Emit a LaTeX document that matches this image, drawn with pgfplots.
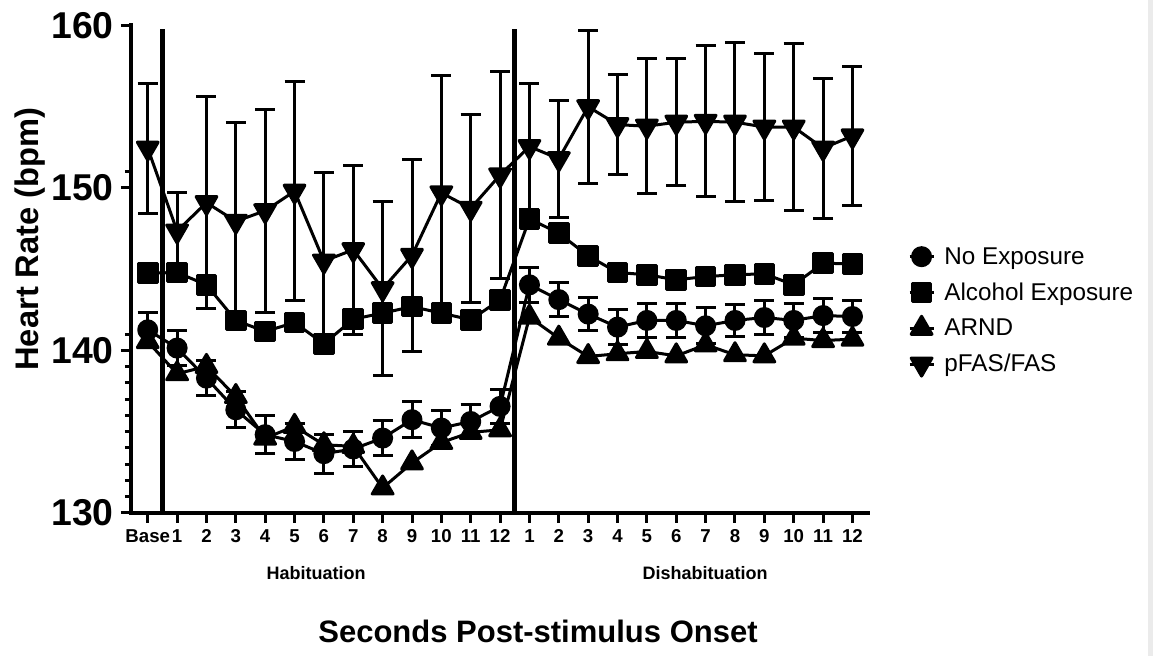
\documentclass[border=0pt]{standalone}
\usepackage{fontspec}
\setmainfont{Liberation Sans}
\usepackage{pgfplots}
\pgfplotsset{compat=1.18}
\usepackage{pgfplotstable}

% 1 px of the reference = 0.75pt; axis box 737 x 487.5 px
\pgfplotstableread{
x   noexp   enoexp  alc     arnd    fas     efas
0   141.27  1.05    144.76  140.55  152.45  4.00
1   140.15  1.06    144.80  138.57  147.35  2.40
2   138.30  1.10    144.04  139.02  149.10  6.50
3   136.35  1.10    141.85  137.17  147.95  6.10
4   134.82  1.17    141.17  134.61  148.60  6.25
5   134.40  1.10    141.72  135.33  149.80  6.75
6   133.65  1.20    140.41  134.20  145.50  5.45
7   133.94  1.10    141.93  134.10  146.20  5.20
8   134.61  1.07    142.30  131.54  143.80  5.35
9   135.74  1.10    142.70  133.08  145.85  5.90
10  135.23  1.08    142.30  134.34  149.70  7.25
11  135.63  1.07    141.89  134.96  148.75  5.80
12  136.56  1.07    143.12  135.12  150.80  6.35
13  144.04  1.06    148.10  142.05  152.55  3.85
14  143.13  1.05    147.22  140.76  151.80  3.60
15  142.24  1.03    145.82  139.63  155.00  4.70
16  141.44  1.06    144.80  139.80  153.90  3.10
17  141.85  1.07    144.66  139.94  153.80  4.15
18  141.85  1.07    144.35  139.67  154.05  3.90
19  141.52  1.12    144.55  140.35  154.10  4.65
20  141.85  1.00    144.66  139.74  154.05  4.90
21  142.03  1.04    144.72  139.67  153.75  4.55
22  141.85  1.07    144.04  140.76  153.75  5.15
23  142.15  1.03    145.37  140.61  152.45  4.30
24  142.09  1.00    145.33  140.70  153.20  4.25
}\hrdata

\begin{document}
\begin{tikzpicture}
\useasboundingbox (-98.25pt,-107.25pt) rectangle (766.5pt,384.75pt);
\fill[black!8] (762.75pt,-107.25pt) rectangle (766.5pt,384.75pt);
\begin{axis}[
  at={(0pt,0pt)}, anchor=south west,
  scale only axis, width=552.75pt, height=365.625pt,
  xmin=-0.57, xmax=24.53, ymin=130, ymax=160,
  axis x line*=bottom, axis y line*=left,
  axis line style={line width=3pt, line cap=rect},
  tick align=outside, tick style={black, line width=2.25pt},
  major tick length=7.5pt, minor tick length=4.5pt,
  xtick={0,...,24},
  xticklabels={Base,1,2,3,4,5,6,7,8,9,10,11,12,1,2,3,4,5,6,7,8,9,10,11,12},
  xticklabel style={font=\fontsize{14pt}{16pt}\selectfont\bfseries, anchor=base, yshift=-14.5pt},
  ytick={130,140,150,160}, yticklabels={130,140,150,160},
  minor ytick={131,...,139,141,...,149,151,...,159},
  yticklabel style={font=\fontsize{28pt}{32pt}\selectfont\bfseries, xshift=-2pt},
  clip=false,
  legend cell align=left,
  legend style={draw=none, fill=none, at={(axis description cs:1.054,0.551)}, anchor=north west,
    font=\fontsize{18.2pt}{21pt}\selectfont, row sep=8.5pt, inner sep=0pt,
    /tikz/every even column/.append style={column sep=0pt},
    nodes={inner xsep=7pt}},
  legend image code/.code={\draw[mark repeat=2,mark phase=2,#1] plot coordinates {(0pt,0pt) (9pt,0pt) (18pt,0pt)};},
  every axis plot/.append style={black, line width=2.25pt, line join=round},
  error bars/error bar style={line width=2.25pt},
  error bars/error mark options={line width=2.25pt, mark size=7.5pt, rotate=90},
]
\addplot[mark=*, mark size=6.75pt, error bars/.cd, y dir=both, y explicit]
  table[x=x, y=noexp, y error=enoexp] {\hrdata};
\addplot[mark=square*, mark size=7pt] table[x=x, y=alc] {\hrdata};
\addplot[mark=triangle*, mark size=9pt] table[x=x, y=arnd] {\hrdata};
\addplot[mark=triangle*, mark size=9pt, mark options={rotate=180}, error bars/.cd, y dir=both, y explicit]
  table[x=x, y=fas, y error=efas] {\hrdata};
\legend{No Exposure, Alcohol Exposure, ARND, pFAS/FAS}
\draw[line width=3.5pt] (axis cs:0.5,130) -- (axis cs:0.5,159.8);
\draw[line width=3.5pt] (axis cs:12.5,130) -- (axis cs:12.5,159.8);
\end{axis}
\node[rotate=90, font=\fontsize{24.5pt}{28pt}\selectfont\bfseries] at (-75.5pt,205.5pt) {Heart Rate (bpm)};
\node[anchor=base, font=\fontsize{13.5pt}{16pt}\selectfont\bfseries] at (138.75pt,-50.25pt) {Habituation};
\node[anchor=base, font=\fontsize{13.5pt}{16pt}\selectfont\bfseries] at (430.5pt,-50.25pt) {Dishabituation};
\node[anchor=base, font=\fontsize{23.25pt}{28pt}\selectfont\bfseries] at (305.25pt,-97.5pt) {Seconds Post-stimulus Onset};
\end{tikzpicture}
\end{document}
